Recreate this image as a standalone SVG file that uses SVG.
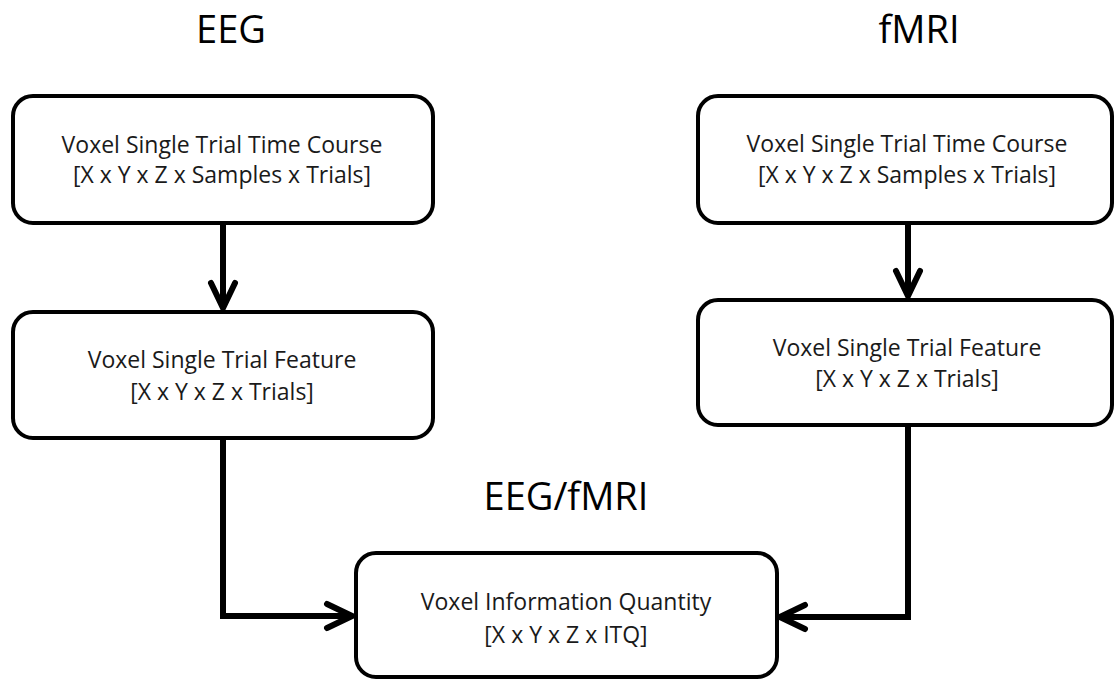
<svg xmlns="http://www.w3.org/2000/svg" width="1114" height="680" viewBox="0 0 1114 680">
<style>
.box{fill:#fff;stroke:#000;stroke-width:4}
.t{font-family:"Open Sans","Liberation Sans",sans-serif;font-size:23px;fill:#1a1a1a;text-anchor:middle}
.h{font-family:"Open Sans","Liberation Sans",sans-serif;font-size:38px;fill:#000;text-anchor:middle}
.c{fill:none;stroke:#000;stroke-width:6;stroke-linejoin:miter}
</style>
<defs>
<marker id="ah" viewBox="-30 -16 34 32" refX="0" refY="0" markerWidth="34" markerHeight="32" markerUnits="userSpaceOnUse" orient="auto">
<path d="M-25,-12 L0,0 L-25,12" fill="none" stroke="#000" stroke-width="6" stroke-linecap="round" stroke-linejoin="miter"/>
</marker>
</defs>
<text class="h" x="231" y="43">EEG</text>
<text class="h" x="919" y="43">fMRI</text>
<text class="h" x="566" y="510">EEG/fMRI</text>
<g id="connectors">
<path class="c" d="M223,223 L223,308" marker-end="url(#ah)"/>
<path class="c" d="M908,223 L908,296" marker-end="url(#ah)"/>
<path class="c" d="M223,438 L223,616 L352,616" marker-end="url(#ah)"/>
<path class="c" d="M908,425 L908,617 L780,617" marker-end="url(#ah)"/>
</g>
<g id="eeg-timecourse">
<rect class="box" x="13" y="96" width="420" height="127" rx="20"/>
<text class="t" x="222" y="153">Voxel Single Trial Time Course</text>
<text class="t" x="222" y="183">[X x Y x Z x Samples x Trials]</text>
</g>
<g id="eeg-feature">
<rect class="box" x="13" y="312" width="420" height="126" rx="20"/>
<text class="t" x="222" y="368">Voxel Single Trial Feature</text>
<text class="t" x="222" y="400">[X x Y x Z x Trials]</text>
</g>
<g id="fmri-timecourse">
<rect class="box" x="698" y="96" width="414" height="127" rx="20"/>
<text class="t" x="907" y="152">Voxel Single Trial Time Course</text>
<text class="t" x="907" y="183">[X x Y x Z x Samples x Trials]</text>
</g>
<g id="fmri-feature">
<rect class="box" x="698" y="300" width="414" height="125" rx="20"/>
<text class="t" x="907" y="356">Voxel Single Trial Feature</text>
<text class="t" x="907" y="387">[X x Y x Z x Trials]</text>
</g>
<g id="info-quantity">
<rect class="box" x="356" y="553" width="421" height="124" rx="20"/>
<text class="t" x="566" y="610">Voxel Information Quantity</text>
<text class="t" x="566" y="643">[X x Y x Z x ITQ]</text>
</g>
</svg>
